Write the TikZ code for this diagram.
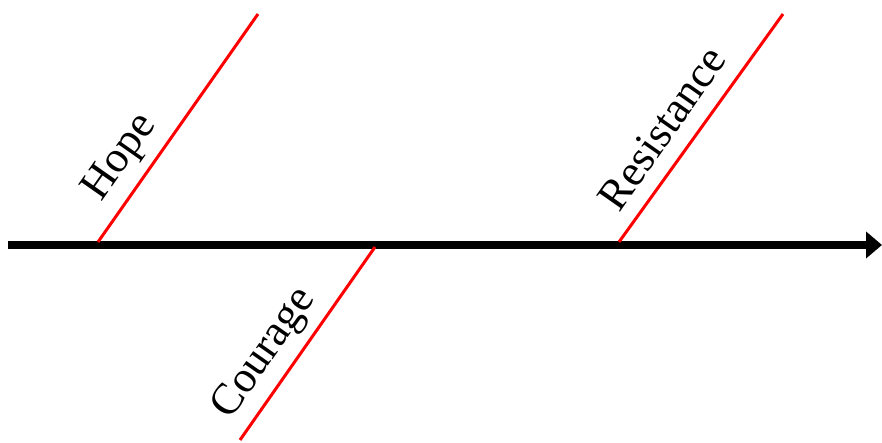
\documentclass[tikz,border=0pt]{standalone}
\usepackage{fontspec}
\setmainfont{Liberation Serif}
\usetikzlibrary{arrows.meta}
\begin{document}
\begin{tikzpicture}[x=1pt,y=1pt,
  spine/.style={line width=7.5pt,-{Triangle[length=16pt,width=26pt]}},
  bone/.style={red,line width=3pt},
  lbl/.style={font=\fontsize{44}{52}\selectfont,rotate=55,inner sep=0pt}]
\useasboundingbox (0,0) rectangle (882,443);
\coordinate (s) at (8,198);
\coordinate (e) at (882,198);
\draw[spine] (s) -- (e);
\coordinate (h0) at (98,201);
\coordinate (h1) at (258,429);
\coordinate (r0) at (619,201);
\coordinate (r1) at (783,429);
\coordinate (c0) at (375,196);
\coordinate (c1) at (240,3);
\draw[bone] (h0) -- (h1);
\draw[bone] (r0) -- (r1);
\draw[bone] (c0) -- (c1);
\node[lbl] (hope) at (121,285) {Hope};
\node[lbl] (res) at (662,315) {Resistance};
\node[lbl] (cou) at (265,89) {Courage};
\end{tikzpicture}
\end{document}
